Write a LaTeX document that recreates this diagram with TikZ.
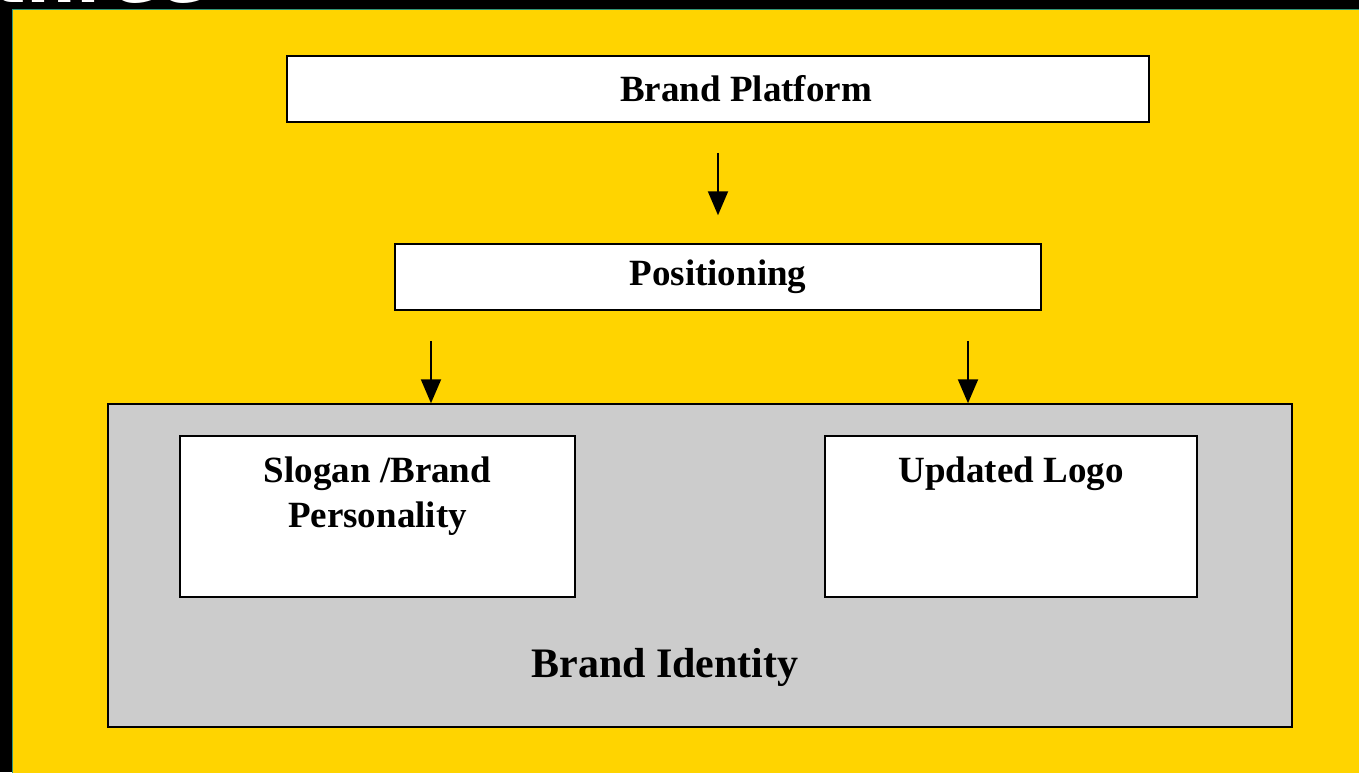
\documentclass[tikz,border=0pt]{standalone}
\usepackage{fontspec}
\setmainfont{Liberation Serif}
\newfontfamily\headfont{DejaVu Sans}
\usetikzlibrary{arrows.meta}
\definecolor{slideyellow}{RGB}{255,212,0}
\definecolor{boxgray}{RGB}{204,204,204}
\definecolor{edgeteal}{RGB}{50,150,120}

\begin{document}
\begin{tikzpicture}[x=1pt,y=-1pt, line width=1.5pt,
  box/.style = {draw, rectangle, fill=white, inner sep=0pt},
  txt/.style = {inner sep=0pt, align=center, font=\fontsize{37}{45}\selectfont\bfseries},
  arr/.style = {-{Triangle[length=24pt,width=20pt]}, line width=2pt}]

% slide background
\useasboundingbox (0,0) rectangle (1359,772);
\fill[black] (0,0) rectangle (1359,772);
\node[anchor=base west, inner sep=0pt, text=white, font=\fontsize{70}{76}\headfont\bfseries] (title) at (-8,2) {three};
\draw[edgeteal, line width=1pt, fill=slideyellow] (12,9) rectangle (1365,780);

\node[box, minimum width=862pt, minimum height=66pt] (plat) at (718,89) {};
\node[txt] (plattxt) at (746,89) {Brand Platform};
\node[box, minimum width=646pt, minimum height=66pt] (pos) at (718,277) {};
\node[txt] (postxt) at (pos) {Positioning};

\node[box, fill=boxgray, minimum width=1184pt, minimum height=323pt] (ident) at (700,565.5) {};
\node[txt, font=\fontsize{42}{50}\selectfont\bfseries] (identtxt) at (665,667) {Brand Identity};

\node[box, minimum width=395pt, minimum height=161pt] (slogan) at (377.5,516.5) {};
\node[txt, anchor=north] (slogantxt) at ([yshift=-21]slogan.north) {Slogan /Brand\\Personality};
\node[box, minimum width=372pt, minimum height=161pt] (logo) at (1011,516.5) {};
\node[txt, anchor=north] (logotxt) at ([yshift=-21]logo.north) {Updated Logo};

% connectors
\draw[arr, shorten <=30pt, shorten >=28pt] (plat.south) -- (pos.north);
\draw[arr, shorten <=30pt] ([xshift=-287]pos.south) -- ([xshift=-287]pos.south |- ident.north);
\draw[arr, shorten <=30pt] ([xshift=250]pos.south) -- ([xshift=250]pos.south |- ident.north);

\end{tikzpicture}
\end{document}
